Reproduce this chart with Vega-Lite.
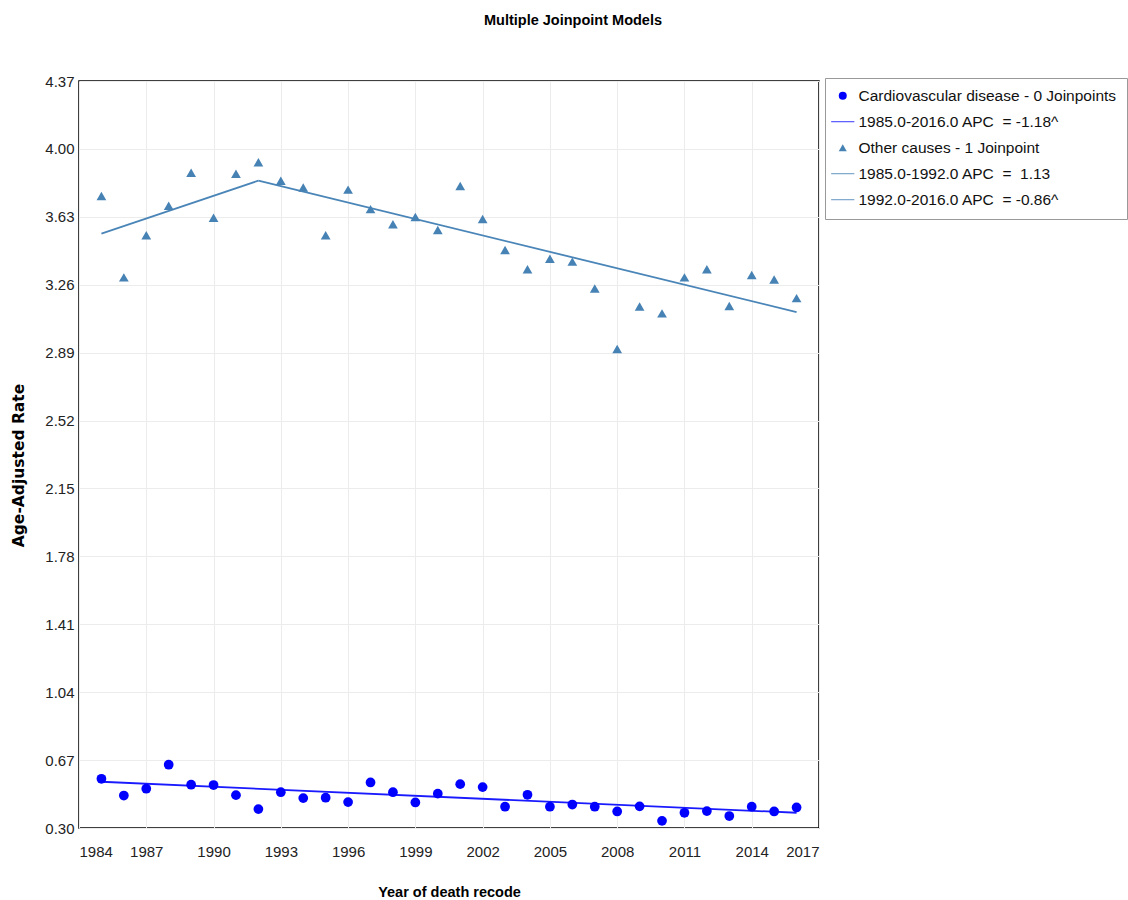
{
  "$schema": "https://vega.github.io/schema/vega-lite/v6.json",
  "width": 740,
  "height": 747,
  "autosize": {"type": "none"},
  "padding": {"left": 79, "top": 81, "right": 309, "bottom": 72},
  "background": "white",
  "title": {"text": "Multiple Joinpoint Models", "anchor": "middle", "frame": "group", "dx": 124, "offset": 46, "font": "Liberation Sans", "fontSize": 14.5, "fontWeight": "bold", "color": "black"},
  "config": {
    "view": {"stroke": "black", "strokeWidth": 1.5},
    "axis": {"labelFont": "Liberation Sans", "labelFontSize": 15, "labelColor": "#222", "titleColor": "black", "gridColor": "#ececec", "ticks": false, "domain": false}
  },
  "datasets": {
    "obs": [
      {"year": 1985, "rate": 0.568, "label": "Cardiovascular disease - 0 Joinpoints"},
      {"year": 1986, "rate": 0.477, "label": "Cardiovascular disease - 0 Joinpoints"},
      {"year": 1987, "rate": 0.514, "label": "Cardiovascular disease - 0 Joinpoints"},
      {"year": 1988, "rate": 0.645, "label": "Cardiovascular disease - 0 Joinpoints"},
      {"year": 1989, "rate": 0.536, "label": "Cardiovascular disease - 0 Joinpoints"},
      {"year": 1990, "rate": 0.534, "label": "Cardiovascular disease - 0 Joinpoints"},
      {"year": 1991, "rate": 0.479, "label": "Cardiovascular disease - 0 Joinpoints"},
      {"year": 1992, "rate": 0.403, "label": "Cardiovascular disease - 0 Joinpoints"},
      {"year": 1993, "rate": 0.495, "label": "Cardiovascular disease - 0 Joinpoints"},
      {"year": 1994, "rate": 0.463, "label": "Cardiovascular disease - 0 Joinpoints"},
      {"year": 1995, "rate": 0.465, "label": "Cardiovascular disease - 0 Joinpoints"},
      {"year": 1996, "rate": 0.441, "label": "Cardiovascular disease - 0 Joinpoints"},
      {"year": 1997, "rate": 0.548, "label": "Cardiovascular disease - 0 Joinpoints"},
      {"year": 1998, "rate": 0.495, "label": "Cardiovascular disease - 0 Joinpoints"},
      {"year": 1999, "rate": 0.439, "label": "Cardiovascular disease - 0 Joinpoints"},
      {"year": 2000, "rate": 0.487, "label": "Cardiovascular disease - 0 Joinpoints"},
      {"year": 2001, "rate": 0.539, "label": "Cardiovascular disease - 0 Joinpoints"},
      {"year": 2002, "rate": 0.523, "label": "Cardiovascular disease - 0 Joinpoints"},
      {"year": 2003, "rate": 0.416, "label": "Cardiovascular disease - 0 Joinpoints"},
      {"year": 2004, "rate": 0.481, "label": "Cardiovascular disease - 0 Joinpoints"},
      {"year": 2005, "rate": 0.416, "label": "Cardiovascular disease - 0 Joinpoints"},
      {"year": 2006, "rate": 0.428, "label": "Cardiovascular disease - 0 Joinpoints"},
      {"year": 2007, "rate": 0.416, "label": "Cardiovascular disease - 0 Joinpoints"},
      {"year": 2008, "rate": 0.390, "label": "Cardiovascular disease - 0 Joinpoints"},
      {"year": 2009, "rate": 0.418, "label": "Cardiovascular disease - 0 Joinpoints"},
      {"year": 2010, "rate": 0.339, "label": "Cardiovascular disease - 0 Joinpoints"},
      {"year": 2011, "rate": 0.383, "label": "Cardiovascular disease - 0 Joinpoints"},
      {"year": 2012, "rate": 0.392, "label": "Cardiovascular disease - 0 Joinpoints"},
      {"year": 2013, "rate": 0.365, "label": "Cardiovascular disease - 0 Joinpoints"},
      {"year": 2014, "rate": 0.416, "label": "Cardiovascular disease - 0 Joinpoints"},
      {"year": 2015, "rate": 0.390, "label": "Cardiovascular disease - 0 Joinpoints"},
      {"year": 2016, "rate": 0.412, "label": "Cardiovascular disease - 0 Joinpoints"},
      {"year": 1985, "rate": 3.743, "label": "Other causes - 1 Joinpoint"},
      {"year": 1986, "rate": 3.300, "label": "Other causes - 1 Joinpoint"},
      {"year": 1987, "rate": 3.530, "label": "Other causes - 1 Joinpoint"},
      {"year": 1988, "rate": 3.690, "label": "Other causes - 1 Joinpoint"},
      {"year": 1989, "rate": 3.870, "label": "Other causes - 1 Joinpoint"},
      {"year": 1990, "rate": 3.625, "label": "Other causes - 1 Joinpoint"},
      {"year": 1991, "rate": 3.865, "label": "Other causes - 1 Joinpoint"},
      {"year": 1992, "rate": 3.927, "label": "Other causes - 1 Joinpoint"},
      {"year": 1993, "rate": 3.827, "label": "Other causes - 1 Joinpoint"},
      {"year": 1994, "rate": 3.790, "label": "Other causes - 1 Joinpoint"},
      {"year": 1995, "rate": 3.530, "label": "Other causes - 1 Joinpoint"},
      {"year": 1996, "rate": 3.778, "label": "Other causes - 1 Joinpoint"},
      {"year": 1997, "rate": 3.672, "label": "Other causes - 1 Joinpoint"},
      {"year": 1998, "rate": 3.590, "label": "Other causes - 1 Joinpoint"},
      {"year": 1999, "rate": 3.629, "label": "Other causes - 1 Joinpoint"},
      {"year": 2000, "rate": 3.558, "label": "Other causes - 1 Joinpoint"},
      {"year": 2001, "rate": 3.798, "label": "Other causes - 1 Joinpoint"},
      {"year": 2002, "rate": 3.618, "label": "Other causes - 1 Joinpoint"},
      {"year": 2003, "rate": 3.449, "label": "Other causes - 1 Joinpoint"},
      {"year": 2004, "rate": 3.344, "label": "Other causes - 1 Joinpoint"},
      {"year": 2005, "rate": 3.402, "label": "Other causes - 1 Joinpoint"},
      {"year": 2006, "rate": 3.386, "label": "Other causes - 1 Joinpoint"},
      {"year": 2007, "rate": 3.239, "label": "Other causes - 1 Joinpoint"},
      {"year": 2008, "rate": 2.910, "label": "Other causes - 1 Joinpoint"},
      {"year": 2009, "rate": 3.141, "label": "Other causes - 1 Joinpoint"},
      {"year": 2010, "rate": 3.104, "label": "Other causes - 1 Joinpoint"},
      {"year": 2011, "rate": 3.300, "label": "Other causes - 1 Joinpoint"},
      {"year": 2012, "rate": 3.344, "label": "Other causes - 1 Joinpoint"},
      {"year": 2013, "rate": 3.144, "label": "Other causes - 1 Joinpoint"},
      {"year": 2014, "rate": 3.313, "label": "Other causes - 1 Joinpoint"},
      {"year": 2015, "rate": 3.288, "label": "Other causes - 1 Joinpoint"},
      {"year": 2016, "rate": 3.187, "label": "Other causes - 1 Joinpoint"}
    ],
    "fit": [
      {"year": 1985, "rate": 0.552, "label": "1985.0-2016.0 APC\u00a0 = -1.18^"},
      {"year": 2016, "rate": 0.383, "label": "1985.0-2016.0 APC\u00a0 = -1.18^"},
      {"year": 1985, "rate": 3.538, "label": "1985.0-1992.0 APC\u00a0 = \u00a01.13"},
      {"year": 1992, "rate": 3.827, "label": "1985.0-1992.0 APC\u00a0 = \u00a01.13"},
      {"year": 1992, "rate": 3.827, "label": "1992.0-2016.0 APC\u00a0 = -0.86^"},
      {"year": 2016, "rate": 3.111, "label": "1992.0-2016.0 APC\u00a0 = -0.86^"}
    ]
  },
  "encoding": {
    "x": {"field": "year", "type": "quantitative", "scale": {"domain": [1984, 2017], "nice": false, "zero": false},
      "axis": {"values": [1984, 1987, 1990, 1993, 1996, 1999, 2002, 2005, 2008, 2011, 2014, 2017], "format": "d", "labelPadding": 16, "title": "Year of death recode", "titleFont": "Liberation Sans", "titleFontSize": 14.5, "titleFontWeight": "bold", "titlePadding": 26}},
    "y": {"field": "rate", "type": "quantitative", "scale": {"domain": [0.30, 4.37], "nice": false, "zero": false},
      "axis": {"values": [0.30, 0.67, 1.04, 1.41, 1.78, 2.15, 2.52, 2.89, 3.26, 3.63, 4.00, 4.37], "format": ".2f", "labelPadding": 5, "title": "Age-Adjusted Rate", "titleFont": "DejaVu Sans", "titleFontSize": 15.5, "titleFontWeight": "bold", "titlePadding": 18, "titleY": 384}}
  },
  "layer": [
    {
      "data": {"name": "fit"},
      "mark": {"type": "line", "strokeWidth": 1.8},
      "encoding": {
        "color": {"field": "label", "type": "nominal",
          "scale": {"domain": ["Cardiovascular disease - 0 Joinpoints", "1985.0-2016.0 APC\u00a0 = -1.18^", "Other causes - 1 Joinpoint", "1985.0-1992.0 APC\u00a0 = \u00a01.13", "1992.0-2016.0 APC\u00a0 = -0.86^"],
                    "range": ["#0000ff", "#1a1aff", "#4682b4", "#4a85b8", "#4a85b8"]}}
      }
    },
    {
      "data": {"name": "obs"},
      "mark": {"type": "point", "filled": true, "opacity": 1, "size": 95},
      "encoding": {
        "color": {"field": "label", "type": "nominal",
          "legend": {"title": null, "orient": "none", "legendX": 746, "legendY": -3, "fillColor": "white", "strokeColor": "#999999", "padding": 10,
            "labelFont": "Liberation Sans", "labelFontSize": 15.5, "labelColor": "#111", "labelLimit": 400, "labelOffset": 8, "symbolSize": 64, "rowPadding": 9, "symbolOpacity": 1, "symbolStrokeWidth": 0}},
        "shape": {"field": "label", "type": "nominal",
          "scale": {"domain": ["Cardiovascular disease - 0 Joinpoints", "1985.0-2016.0 APC\u00a0 = -1.18^", "Other causes - 1 Joinpoint", "1985.0-1992.0 APC\u00a0 = \u00a01.13", "1992.0-2016.0 APC\u00a0 = -0.86^"],
                    "range": ["circle", "M-2.9,-0.11H2.9V0.11H-2.9Z", "triangle-up", "M-2.9,-0.11H2.9V0.11H-2.9Z", "M-2.9,-0.11H2.9V0.11H-2.9Z"]}}
      }
    }
  ]
}
